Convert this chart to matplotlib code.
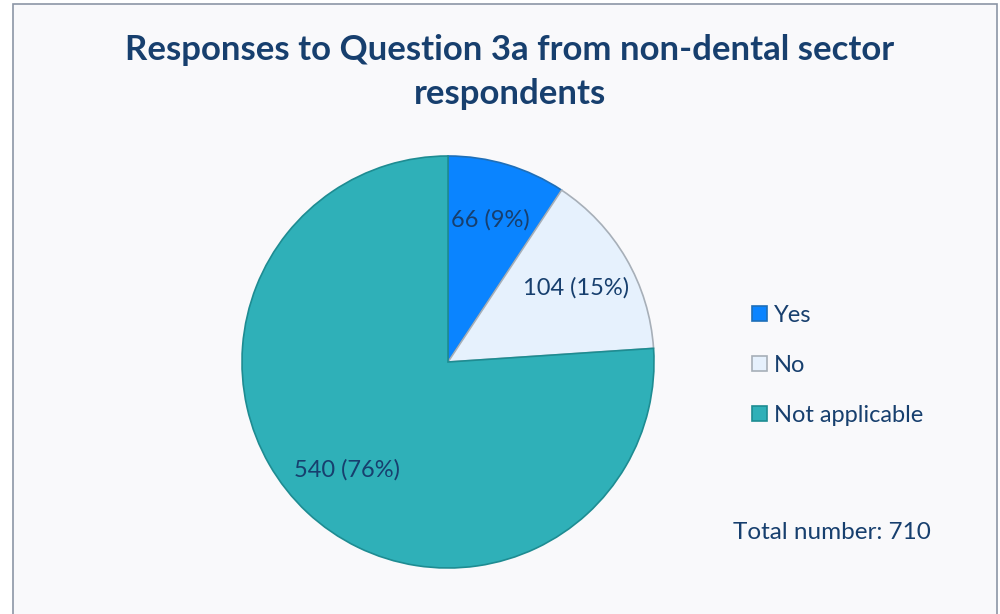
import matplotlib.pyplot as plt
from matplotlib.patches import Rectangle

# Dados
categorias = ["Yes", "No", "Not applicable"]
valores = [66, 104, 540]
total = sum(valores)

cores = ["#0A84FF", "#E6F1FD", "#2FB0B8"]
bordas = ["#1F6FB8", "#A7AFB8", "#1E8C92"]
cor_texto = "#173F6E"

plt.rcParams["font.family"] = ["Lato", "DejaVu Sans"]

fig = plt.figure(figsize=(10, 6.14), dpi=100, facecolor="white")

# Moldura do gráfico
fig.add_artist(Rectangle((0.0125, -0.01), 0.984, 1.0035, transform=fig.transFigure,
                         facecolor="#F9F9FB", edgecolor="#8C96A6", linewidth=1.2, zorder=0))

fig.text(0.51, 0.883, "Responses to Question 3a from non-dental sector\nrespondents",
         ha="center", va="center", fontsize=25, fontweight="bold", color=cor_texto,
         linespacing=1.45)

# Pizza
ax = fig.add_axes([(448 - 206) / 1000, (614 - 362 - 206) / 614, 412 / 1000, 412 / 614])
ax.set_facecolor("none")


def rotulo(pct):
    n = round(pct * total / 100)
    return f"{n} ({pct:.0f}%)"


resultado = ax.pie(
    valores, colors=cores, startangle=90, counterclock=False,
    autopct=rotulo, pctdistance=0.72, radius=1.0,
    wedgeprops=dict(linewidth=1.2),
    textprops=dict(color=cor_texto, fontsize=17),
)
fatias = resultado[0]
for f, b in zip(fatias, bordas):
    f.set_edgecolor(b)
ax.set_xlim(-1, 1)
ax.set_ylim(-1, 1)
ax.set_aspect("equal")

fig.legend(fatias, categorias, loc="upper left", bbox_to_anchor=(0.731, 0.538),
           frameon=False, fontsize=17, labelcolor=cor_texto,
           handlelength=0.62, handleheight=0.62, handletextpad=0.3,
           labelspacing=1.22)

fig.text(0.733, 0.132, f"Total number: {total}", ha="left", va="center",
         fontsize=17.5, color=cor_texto)

fig.savefig("out.png", dpi=100)
plt.close()
